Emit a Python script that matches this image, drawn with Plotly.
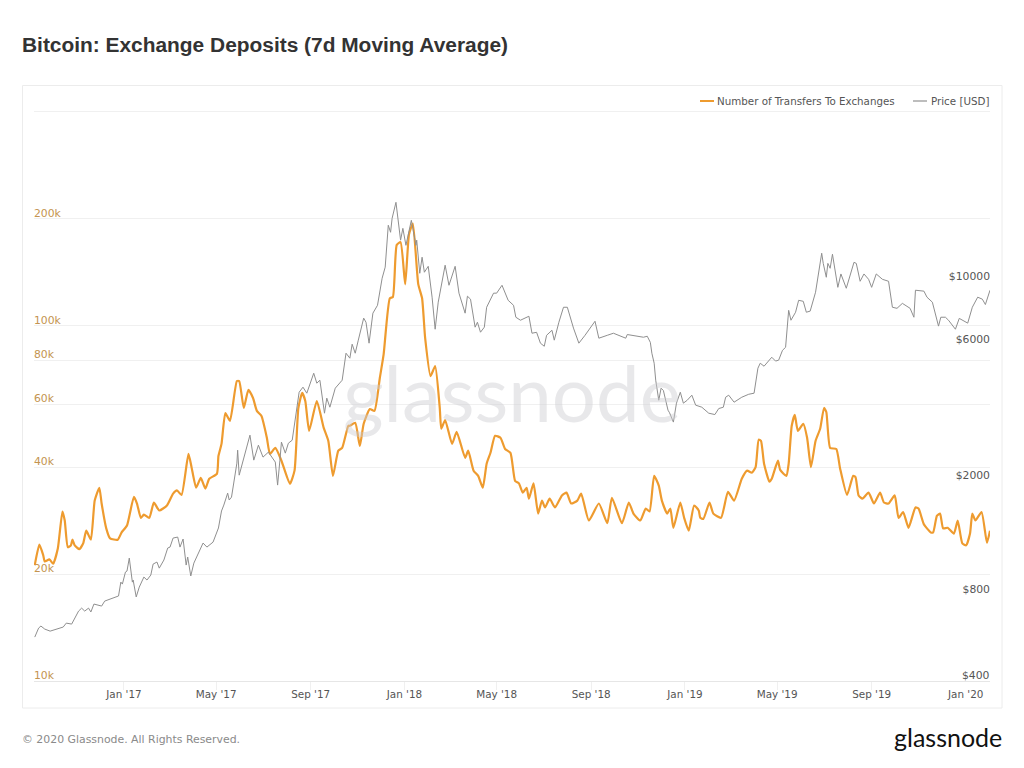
"""Bitcoin exchange deposits vs price, glassnode style chart."""

import pandas as pd
import plotly.graph_objects as go

START = pd.Timestamp("2016-09-06")
WIDTH, HEIGHT = 1024, 768
LEFT, RIGHT, TOP, BOTTOM = 34, 990, 110, 681

# days since START, transfers in thousands
transfer_days = [
    1, 7, 12, 14, 20, 25, 31, 37, 40, 44, 48, 50, 53, 59, 64, 68, 74, 79, 85, 88, 94, 99, 109, 114, 121,
    130, 134, 139, 143, 150, 156, 163, 173, 181, 186, 192, 201, 205, 211, 217, 223, 228, 238, 240, 244,
    249, 255, 264, 267, 273, 279, 285, 290, 296, 303, 307, 314, 322, 333, 339, 344, 349, 353, 358, 368,
    377, 383, 389, 396, 401, 409, 411, 418, 424, 429, 437, 443, 450, 455, 463, 467, 472, 477, 483, 488,
    493, 500, 505, 509, 516, 522, 528, 530, 535, 544, 550, 561, 565, 572, 578, 584, 589, 594, 600, 607,
    613, 620, 626, 631, 636, 641, 644, 650, 656, 661, 665, 671, 678, 687, 693, 699, 707, 712, 722, 735,
    746, 752, 765, 774, 780, 789, 796, 801, 807, 813, 817, 824, 828, 832, 841, 846, 852, 859, 865, 867,
    871, 879, 884, 894, 903, 911, 921, 928, 934, 939, 943, 946, 950, 957, 960, 968, 971, 979, 982, 986,
    990, 994, 1001, 1006, 1011, 1017, 1023, 1028, 1031, 1036, 1044, 1049, 1058, 1066, 1069, 1073, 1078,
    1086, 1093, 1101, 1106, 1112, 1120, 1125, 1131, 1138, 1147, 1151, 1158, 1167, 1170, 1175, 1179, 1183,
    1189, 1197, 1202, 1208, 1213, 1218, 1221, 1225, 1233, 1240, 1244,
]
transfer_values = [
    21.2, 24.2, 22.6, 21.7, 22.0, 21.4, 23.6, 30.0, 28.3, 23.8, 24.1, 25.0, 24.1, 23.5, 24.4, 26.5, 25.0,
    32.2, 35.0, 31.6, 26.9, 25.2, 25.0, 26.2, 27.4, 33.0, 31.6, 28.8, 29.4, 28.8, 31.8, 30.2, 31.2, 33.7,
    34.4, 33.4, 43.6, 40.0, 35.0, 37.3, 34.8, 37.1, 38.3, 43.0, 46.5, 56.8, 54.0, 69.9, 69.9, 58.7, 66.0,
    62.6, 57.6, 55.7, 48.4, 43.6, 45.3, 41.7, 35.9, 39.1, 58.7, 64.7, 61.4, 50.6, 61.4, 51.6, 47.4, 37.8,
    44.5, 45.3, 52.3, 52.3, 53.3, 45.9, 53.0, 58.3, 57.6, 71.3, 83.2, 119.5, 120.5, 169, 172, 130.8, 181,
    194, 131, 119.5, 92.3, 72.2, 77.0, 58.7, 51.3, 54.3, 46.5, 50.3, 42.5, 44.5, 39.1, 37.8, 35.0, 40.9,
    43.9, 49.0, 48.4, 45.0, 43.9, 36.6, 36.0, 33.9, 35.0, 32.6, 36.0, 29.6, 32.2, 30.8, 32.6, 30.8, 33.3,
    33.9, 31.6, 32.2, 33.7, 28.3, 31.6, 27.8, 32.8, 27.8, 31.8, 29.6, 28.3, 30.6, 30.0, 37.8, 35.5, 32.2,
    29.6, 30.6, 27.0, 31.8, 28.8, 26.5, 31.2, 30.2, 28.8, 28.6, 31.8, 29.6, 28.8, 34.1, 32.2, 37.1, 39.1,
    38.6, 40.0, 47.8, 47.4, 40.9, 36.4, 37.1, 41.7, 39.3, 37.8, 40.9, 52.3, 56.1, 50.6, 53.0, 48.4, 40.0,
    47.4, 51.3, 58.7, 57.2, 45.3, 45.0, 39.6, 33.4, 37.8, 37.5, 33.3, 32.6, 33.9, 31.6, 33.9, 31.8, 31.6,
    33.3, 28.8, 29.9, 27.0, 30.8, 30.6, 27.6, 26.2, 26.2, 29.2, 29.6, 26.9, 27.0, 26.0, 28.3, 24.4, 24.1,
    26.0, 29.6, 28.3, 29.9, 24.5, 26.5,
]

# days since START, price in USD
price_days = [
    1, 6, 9, 14, 21, 30, 38, 42, 49, 58, 62, 66, 71, 74, 78, 88, 92, 110, 113, 115, 119, 121, 124, 128, 129,
    133, 137, 143, 147, 152, 155, 160, 163, 169, 174, 177, 181, 187, 190, 194, 198, 200, 204, 208, 214, 220,
    225, 233, 240, 244, 247, 252, 254, 257, 264, 265, 267, 275, 281, 286, 292, 298, 305, 314, 317, 320, 322,
    327, 331, 336, 340, 345, 350, 355, 364, 368, 372, 378, 381, 385, 392, 401, 406, 411, 414, 418, 422, 429,
    432, 436, 441, 447, 453, 457, 461, 464, 466, 471, 477, 480, 484, 491, 497, 498, 502, 505, 508, 513, 518,
    522, 526, 535, 540, 548, 553, 561, 564, 568, 574, 577, 581, 586, 589, 598, 602, 609, 617, 624, 627, 633,
    644, 648, 654, 659, 664, 667, 674, 677, 683, 689, 694, 702, 709, 717, 730, 735, 746, 754, 770, 772, 793,
    798, 802, 804, 807, 809, 813, 816, 819, 825, 827, 832, 836, 841, 845, 850, 856, 861, 869, 878, 886, 891,
    897, 900, 904, 911, 921, 930, 937, 942, 945, 950, 960, 965, 969, 974, 978, 982, 985, 991, 995, 1001, 1005,
    1010, 1017, 1021, 1025, 1027, 1031, 1033, 1036, 1039, 1043, 1046, 1050, 1057, 1067, 1070, 1075, 1080, 1086,
    1090, 1096, 1104, 1112, 1117, 1123, 1130, 1140, 1145, 1147, 1158, 1162, 1169, 1177, 1180, 1186, 1190, 1199,
    1204, 1215, 1221, 1228, 1234, 1238, 1244,
]
price_values = [
    570, 613, 623, 608, 598, 608, 618, 638, 633, 703, 720, 703, 720, 698, 744, 732, 762, 794, 888, 874, 963, 971,
    1078, 888, 903, 788, 853, 925, 903, 940, 1027, 1044, 994, 1061, 1169, 1178, 1267, 1277, 1178, 1257, 1019, 1087,
    933, 1035, 1131, 1217, 1178, 1226, 1374, 1576, 1653, 1820, 1722, 1762, 2318, 2574, 2104, 2513, 2905, 2375, 2680,
    2433, 2533, 2338, 1942, 2375, 2746, 2513, 2722, 2790, 3360, 4107, 4278, 4075, 4787, 4417, 4525, 3468, 3916, 3640,
    4243, 4525, 5626, 5404, 6050, 5626, 6250, 7465, 7222, 6100, 7770, 8280, 10300, 11260, 15790, 14920, 16700, 19000,
    14000, 15400, 13430, 16430, 13430, 14000, 10720, 12200, 10810, 11340, 8840, 6826, 8490, 11440, 9730, 11340, 9130,
    7770, 8910, 8700, 6940, 7222, 6664, 6940, 8150, 9130, 9130, 9730, 8620, 8280, 7520, 7340, 7580, 6610, 6660, 6100,
    5950, 6500, 6770, 6250, 7222, 8150, 8150, 6890, 6100, 6500, 7280, 6350, 6500, 6610, 6350, 6540, 6400, 6450, 6140,
    5626, 5190, 4525, 3850, 4243, 4165, 3553, 3480, 3228, 3760, 4107, 3760, 3850, 4010, 3700, 3640, 3468, 3430, 3600,
    3640, 3945, 4010, 3790, 3945, 4040, 4075, 4985, 5190, 5066, 5445, 5280, 5320, 5760, 5900, 7950, 7340, 7830, 8620,
    8550, 7830, 7900, 9200, 10980, 12600, 11610, 10380, 11610, 11160, 12500, 10720, 9570, 10660, 9500, 11710, 11610,
    10050, 10660, 10210, 9570, 10660, 10210, 10050, 8150, 8080, 8410, 8080, 7520, 9350, 9280, 8840, 8490, 7000, 7520,
    7520, 7340, 6826, 7450, 7170, 8150, 8840, 8700, 8330, 9350,
]

month_ticks = ["2017-01-01", "2017-05-01", "2017-09-01", "2018-01-01", "2018-05-01",
               "2018-09-01", "2019-01-01", "2019-05-01", "2019-09-01", "2020-01-01"]
month_labels = ["Jan '17", "May '17", "Sep '17", "Jan '18", "May '18",
                "Sep '18", "Jan '19", "May '19", "Sep '19", "Jan '20"]
transfer_ticks = [10000, 20000, 40000, 60000, 80000, 100000, 200000, 400000]
transfer_labels = ["10k", "20k", "40k", "60k", "80k", "100k", "200k", ""]
price_ticks = [400, 800, 2000, 6000, 10000]
price_labels = ["$400", "$800", "$2000", "$6000", "$10000"]

ORANGE = "#ee9b2f"
GREY = "#8f8f8f"
FONT = "DejaVu Sans"


def paper_x(px):
    return (px - LEFT) / (RIGHT - LEFT)


def paper_y(py):
    return (BOTTOM - py) / (BOTTOM - TOP)


def to_dates(days):
    return START + pd.to_timedelta(days, unit="D")


fig = go.Figure()
fig.add_trace(go.Scatter(
    x=to_dates(transfer_days), y=[v * 1000 for v in transfer_values],
    name="Number of Transfers To Exchanges", mode="lines",
    line=dict(color=ORANGE, width=2.2, shape="spline", smoothing=0.5), yaxis="y",
))
fig.add_trace(go.Scatter(
    x=to_dates(price_days), y=price_values,
    name="Price [USD]", mode="lines",
    line=dict(color=GREY, width=1), yaxis="y2",
))

fig.update_layout(
    width=WIDTH, height=HEIGHT,
    margin=dict(l=LEFT, r=WIDTH - RIGHT, t=TOP, b=HEIGHT - BOTTOM, pad=0),
    paper_bgcolor="white", plot_bgcolor="white",
    showlegend=False,
    font=dict(family=FONT, size=10.4, color="#555555"),
    xaxis=dict(
        type="date", range=["2016-09-06", "2020-02-02"],
        tickvals=month_ticks, ticktext=month_labels, tickangle=0,
        showgrid=False, zeroline=False, showline=True, linecolor="#e6e6e6", linewidth=1,
        ticks="outside", ticklen=8, tickcolor="#f0f0f0", tickwidth=1, ticklabelstandoff=-4,
        tickfont=dict(family=FONT, size=10.4, color="#555555"),
    ),
    yaxis=dict(
        type="log", range=[4, 5.6075], side="left",
        tickvals=transfer_ticks, ticktext=transfer_labels,
        ticklabelposition="inside", ticklabelshift=-6, ticklabelstandoff=-3,
        showgrid=True, gridcolor="#f0f0f0", gridwidth=1, zeroline=False,
        showline=False, ticks="",
        tickfont=dict(family=FONT, size=10.8, color="#c4944f"),
    ),
    yaxis2=dict(
        type="log", range=[2.60206, 4.60206], side="right", overlaying="y",
        tickvals=price_ticks, ticktext=price_labels,
        ticklabelposition="inside", ticklabelshift=-6, ticklabelstandoff=-3,
        showgrid=False, zeroline=False, showline=False, ticks="",
        tickfont=dict(family=FONT, size=10.8, color="#555555"),
    ),
)

# chart frame
fig.add_shape(type="rect", xref="paper", yref="paper",
              x0=paper_x(22.5), x1=paper_x(1002), y0=paper_y(85.5), y1=paper_y(708),
              line=dict(color="#ececec", width=1), fillcolor="rgba(0,0,0,0)", layer="below")

# legend, drawn by hand to get the short line samples
fig.add_shape(type="line", xref="paper", yref="paper",
              x0=paper_x(700), x1=paper_x(714), y0=paper_y(101), y1=paper_y(101),
              line=dict(color=ORANGE, width=2))
fig.add_shape(type="line", xref="paper", yref="paper",
              x0=paper_x(913), x1=paper_x(927), y0=paper_y(101), y1=paper_y(101),
              line=dict(color="#bdbdbd", width=2))


def note(text, px, py, anchor="left", size=11, color="#555555", family=FONT):
    fig.add_annotation(text=text, xref="paper", yref="paper", x=paper_x(px), y=paper_y(py),
                       xanchor=anchor, yanchor="middle", showarrow=False,
                       font=dict(family=family, size=size, color=color))


note("Number of Transfers To Exchanges", 715, 101, size=10.3)
note("Price [USD]", 929, 101, size=10.3)
note("<b>Bitcoin: Exchange Deposits (7d Moving Average)</b>", 20, 45, size=20.9,
     color="#333333", family="Liberation Sans")
note("© 2020 Glassnode. All Rights Reserved.", 20, 739, size=10.9, color="#8a8a8a")
note("glassnode", 1004, 737, anchor="right", size=25, color="#111111", family="Lato")
note("glassnode", 512, 392, anchor="center", size=78, color="rgba(205,205,208,0.45)", family="Lato")

# plotly drops the tick labels that sit on the plot corner, so put these three back
note(transfer_labels[0], 32, 675, size=10.8, color="#c4944f")
note(price_labels[0], 992, 675, anchor="right", size=10.8)
fig.add_annotation(text=month_labels[-1], xref="x", yref="paper", x=month_ticks[-1], y=paper_y(694),
                   xanchor="center", yanchor="middle", showarrow=False,
                   font=dict(family=FONT, size=10.4, color="#555555"))

fig.write_html("out.html", config={"displayModeBar": False},
               post_script="document.body.style.margin='0';")
